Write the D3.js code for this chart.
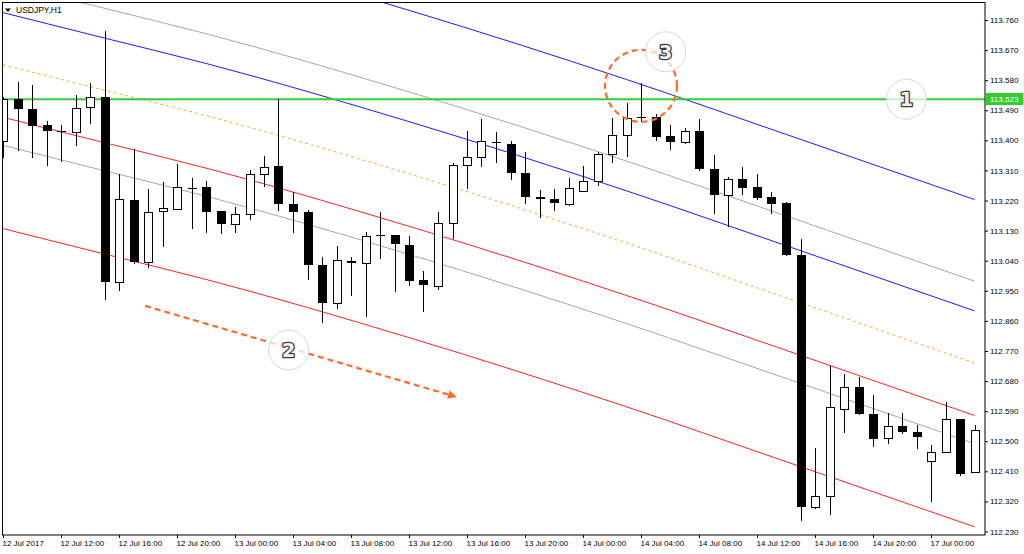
<!DOCTYPE html>
<html>
<head>
<meta charset="utf-8">
<script src="https://cdn.jsdelivr.net/npm/d3@7"></script>
<style>
    body { margin: 0; background: #fff; }
    svg { display: block; font-family: "Liberation Sans", Arial, sans-serif; }
</style>
</head>
<body>
<div id="chart"></div>
<script>
// ---- data (USDJPY H1, 12 Jul 08:00 .. 17 Jul 03:00) ----
const symbolTitle = "USDJPY,H1";

const openPrices = [113.399,113.523,113.493,113.445,113.429,113.426,113.499,113.529,112.976,113.222,
    113.036,113.189,113.195,113.257,113.259,113.188,113.149,113.179,113.299,113.324,
    113.210,113.185,113.028,112.913,113.040,113.034,113.116,113.118,113.086,112.983,
    112.965,113.152,113.326,113.350,113.396,113.388,113.302,113.232,113.225,113.210,
    113.250,113.279,113.358,113.415,113.471,113.471,113.413,113.395,113.429,113.315,
    113.236,113.284,113.260,113.230,113.212,113.056,112.303,112.336,112.597,112.662,
    112.582,112.509,112.547,112.529,112.441,112.468,112.568,112.409];

const highPrices = [113.530,113.576,113.566,113.458,113.445,113.535,113.571,113.727,113.299,113.373,
    113.255,113.275,113.329,113.287,113.279,113.189,113.202,113.312,113.353,113.524,
    113.247,113.192,113.052,113.084,113.050,113.127,113.185,113.118,113.114,113.010,
    113.185,113.332,113.429,113.464,113.426,113.398,113.364,113.252,113.255,113.288,
    113.324,113.364,113.466,113.511,113.571,113.478,113.446,113.436,113.464,113.355,
    113.291,113.321,113.299,113.247,113.217,113.105,112.479,112.725,112.701,112.693,
    112.638,112.584,112.584,112.549,112.489,112.617,112.568,112.549];

const lowPrices = [113.347,113.369,113.346,113.324,113.336,113.384,113.449,112.921,112.948,113.030,
    113.018,113.082,113.192,113.134,113.122,113.119,113.124,113.162,113.260,113.190,
    113.122,112.981,112.853,112.896,112.935,112.873,113.044,112.946,112.963,112.888,
    112.953,113.104,113.254,113.321,113.333,113.282,113.209,113.169,113.190,113.205,
    113.247,113.262,113.332,113.350,113.456,113.398,113.371,113.389,113.309,113.179,
    113.142,113.236,113.222,113.180,113.054,112.262,112.297,112.278,112.525,112.577,
    112.484,112.491,112.521,112.476,112.317,112.468,112.396,112.409];

const closePrices = [113.523,113.493,113.444,113.429,113.428,113.496,113.531,112.976,113.225,113.036,
    113.187,113.197,113.261,113.256,113.186,113.149,113.179,113.299,113.320,113.209,
    113.187,113.027,112.913,113.041,113.032,113.115,113.115,113.091,112.980,112.968,
    113.152,113.326,113.351,113.399,113.391,113.303,113.232,113.226,113.212,113.258,
    113.277,113.358,113.415,113.466,113.470,113.409,113.396,113.429,113.314,113.236,
    113.284,113.258,113.228,113.211,113.056,112.303,112.336,112.602,112.662,112.582,
    112.507,112.547,112.529,112.512,112.469,112.567,112.403,112.534];

const timeTickIndex = [0,4,8,12,16,20,24,28,32,36,40,44,48,52,56,60,64];
const timeTickLabels = ["12 Jul 2017","12 Jul 12:00","12 Jul 16:00","12 Jul 20:00",
    "13 Jul 00:00","13 Jul 04:00","13 Jul 08:00","13 Jul 12:00","13 Jul 16:00","13 Jul 20:00",
    "14 Jul 00:00","14 Jul 04:00","14 Jul 08:00","14 Jul 12:00","14 Jul 16:00","14 Jul 20:00",
    "17 Jul 00:00"];

const priceTicks = [112.230,112.320,112.410,112.500,112.590,112.680,112.770,112.860,112.950,
    113.040,113.130,113.220,113.310,113.400,113.490,113.580,113.670,113.760];

const levelPrice = 113.523;

// channel lines, price read at these bar indices
const channelIndex = [0,7,14,28,43,54,67];
const blueUpper  = [114.115,114.039,113.963,113.789,113.582,113.418,113.223];
const grayUpper  = [113.871,113.795,113.719,113.545,113.338,113.174,112.979];
const blueLower  = [113.782,113.706,113.630,113.456,113.249,113.085,112.890];
const orangeMid  = [113.626,113.550,113.474,113.300,113.093,112.929,112.734];
const redUpper   = [113.469,113.393,113.317,113.143,112.936,112.772,112.577];
const grayLower  = [113.385,113.309,113.233,113.059,112.852,112.688,112.493];
const redLower   = [113.136,113.060,112.984,112.810,112.603,112.439,112.244];

// annotations in bar index / price
const badgeLabels = ["1","2","3"];
const badgeIndex  = [62.3, 19.7, 45.7];
const badgePrice  = [113.523, 112.773, 113.665];
const arrowIndex  = [9.8, 31.0];
const arrowPrice  = [112.905, 112.636];
const ringIndex = 44;
const ringPrice = 113.563;

class CandleChart {
    constructor(_config) {
        this.config = {
            parentElement: _config.parentElement,
            width: 1024,
            height: 554,
            plot: {left: 2.5, top: 2.5, right: 985, bottom: 535},
            bodyWidth: 9
        };
        this.initVis();
    }

    initVis() {
        let vis = this;
        const p = vis.config.plot;

        vis.svg = d3.select(vis.config.parentElement).append('svg')
            .attr('width', vis.config.width)
            .attr('height', vis.config.height);

        vis.svg.append('rect')
            .attr('width', vis.config.width)
            .attr('height', vis.config.height)
            .attr('fill', '#fff');

        vis.x = d3.scaleLinear().domain([0, 67]).range([3, 974.5]);
        vis.y = d3.scaleLinear().domain([112.230, 113.760]).range([531.5, 20]);

        let defs = vis.svg.append('defs');
        defs.append('clipPath').attr('id', 'plot-clip')
            .append('rect')
            .attr('x', p.left).attr('y', p.top)
            .attr('width', p.right - p.left).attr('height', p.bottom - p.top);

        defs.append('marker')
            .attr('id', 'arrow-head')
            .attr('viewBox', '0 0 10 10')
            .attr('refX', 5).attr('refY', 5)
            .attr('markerWidth', 4).attr('markerHeight', 4)
            .attr('markerUnits', 'strokeWidth')
            .attr('orient', 'auto')
            .append('path')
            .attr('d', 'M0,0 L10,5 L0,10 Z')
            .attr('fill', '#ff6a2c');

        vis.chart = vis.svg.append('g').attr('clip-path', 'url(#plot-clip)');

        vis.drawLines();
        vis.drawCandles();
        vis.drawAxes();
        vis.drawAnnotations();
    }

    drawLines() {
        let vis = this;
        const line = d3.line()
            .x(d => vis.x(d[0]))
            .y(d => vis.y(d[1]))
            .curve(d3.curveMonotoneX);

        const channels = [
            {values: blueUpper, color: '#1a1aff', dash: null},
            {values: grayUpper, color: '#a6a6a6', dash: null},
            {values: blueLower, color: '#1a1aff', dash: null},
            {values: orangeMid, color: '#ffa726', dash: '3,3'},
            {values: redUpper, color: '#ff2020', dash: null},
            {values: grayLower, color: '#a6a6a6', dash: null},
            {values: redLower, color: '#ff2020', dash: null}
        ];

        vis.chart.selectAll('.channel')
            .data(channels)
            .join('path')
            .attr('class', 'channel')
            .attr('d', d => line(channelIndex.map((idx, k) => [idx, d.values[k]])))
            .attr('fill', 'none')
            .attr('stroke', d => d.color)
            .attr('stroke-width', 1)
            .attr('stroke-dasharray', d => d.dash);

        vis.chart.append('line')
            .attr('x1', vis.config.plot.left).attr('x2', vis.config.plot.right)
            .attr('y1', vis.y(levelPrice)).attr('y2', vis.y(levelPrice))
            .attr('stroke', '#33cc33')
            .attr('stroke-width', 2);
    }

    drawCandles() {
        let vis = this;
        const bars = openPrices.map((o, i) => ({
            i: i, o: o, h: highPrices[i], l: lowPrices[i], c: closePrices[i]
        }));
        const half = Math.floor(vis.config.bodyWidth / 2);

        let g = vis.chart.selectAll('.candle')
            .data(bars)
            .join('g')
            .attr('class', 'candle');

        g.append('line')
            .attr('x1', d => Math.round(vis.x(d.i)) + 0.5)
            .attr('x2', d => Math.round(vis.x(d.i)) + 0.5)
            .attr('y1', d => Math.round(vis.y(d.h)))
            .attr('y2', d => Math.round(vis.y(d.l)))
            .attr('stroke', '#000')
            .attr('stroke-width', 1);

        g.filter(d => d.c < d.o).append('rect')
            .attr('x', d => Math.round(vis.x(d.i)) - half)
            .attr('width', vis.config.bodyWidth)
            .attr('y', d => Math.round(vis.y(d.o)))
            .attr('height', d => Math.max(1, Math.round(vis.y(d.c)) - Math.round(vis.y(d.o))))
            .attr('fill', '#000');

        g.filter(d => d.c >= d.o).append('rect')
            .attr('x', d => Math.round(vis.x(d.i)) - half + 0.5)
            .attr('width', vis.config.bodyWidth - 1)
            .attr('y', d => Math.round(vis.y(d.c)) + 0.5)
            .attr('height', d => Math.max(0, Math.round(vis.y(d.o)) - Math.round(vis.y(d.c))))
            .attr('fill', '#fff')
            .attr('stroke', '#000')
            .attr('stroke-width', 1);
    }

    drawAxes() {
        let vis = this;
        const p = vis.config.plot;

        vis.svg.append('rect')
            .attr('x', p.left).attr('y', p.top)
            .attr('width', p.right - p.left).attr('height', p.bottom - p.top)
            .attr('fill', 'none')
            .attr('stroke', '#000');

        let yAxis = vis.svg.append('g')
            .attr('transform', `translate(${p.right},0)`)
            .call(d3.axisRight(vis.y).tickValues(priceTicks).tickSize(3).tickSizeOuter(0)
                .tickFormat(d3.format('.3f')));
        yAxis.select('.domain').remove();
        yAxis.selectAll('text')
            .attr('x', 5)
            .style('font-family', '"Liberation Sans", Arial, sans-serif')
            .style('font-size', '8px')
            .attr('fill', '#000');

        let xAxis = vis.svg.append('g')
            .attr('transform', `translate(0,${p.bottom})`)
            .call(d3.axisBottom(vis.x).tickValues(timeTickIndex).tickSize(3).tickSizeOuter(0)
                .tickFormat((d, i) => timeTickLabels[i]));
        xAxis.select('.domain').remove();
        xAxis.selectAll('text')
            .attr('text-anchor', 'start')
            .attr('x', -1)
            .attr('y', 5)
            .style('font-family', '"Liberation Sans", Arial, sans-serif')
            .style('font-size', '8px')
            .attr('fill', '#000');

        // current level tag on the price scale
        let tag = vis.svg.append('g')
            .attr('transform', `translate(${p.right + 1},${Math.round(vis.y(levelPrice)) - 6})`);
        tag.append('rect').attr('width', 37).attr('height', 12).attr('fill', '#33cc33');
        tag.append('text')
            .attr('x', 4).attr('y', 9)
            .attr('fill', '#fff')
            .style('font-size', '8px')
            .text(d3.format('.3f')(levelPrice));

        // symbol caption
        vis.svg.append('path')
            .attr('d', 'M5,8.5 L11,8.5 L8,12 Z')
            .attr('fill', '#000');
        vis.svg.append('text')
            .attr('x', 16).attr('y', 13)
            .style('font-size', '8.5px')
            .attr('fill', '#000')
            .text(symbolTitle);
    }

    drawAnnotations() {
        let vis = this;
        const orange = '#ff6a2c';

        vis.svg.append('line')
            .attr('x1', vis.x(arrowIndex[0])).attr('y1', vis.y(arrowPrice[0]))
            .attr('x2', vis.x(arrowIndex[1])).attr('y2', vis.y(arrowPrice[1]))
            .attr('stroke', orange)
            .attr('stroke-width', 2.2)
            .attr('stroke-dasharray', '6,4')
            .attr('marker-end', 'url(#arrow-head)');

        vis.svg.append('circle')
            .attr('cx', vis.x(ringIndex)).attr('cy', vis.y(ringPrice))
            .attr('r', 36)
            .attr('fill', 'none')
            .attr('stroke', orange)
            .attr('stroke-width', 2.2)
            .attr('stroke-dasharray', '6,4');

        let badges = vis.svg.selectAll('.badge')
            .data(badgeLabels)
            .join('g')
            .attr('class', 'badge')
            .attr('transform', (d, k) => `translate(${vis.x(badgeIndex[k])},${vis.y(badgePrice[k])})`);

        badges.append('circle')
            .attr('r', 20)
            .attr('fill', '#fff')
            .attr('fill-opacity', 0.72)
            .attr('stroke', '#d6d6d6')
            .attr('stroke-width', 1);

        badges.append('text')
            .attr('text-anchor', 'middle')
            .attr('y', 7)
            .style('font-family', '"DejaVu Sans", sans-serif')
            .style('font-weight', 'bold')
            .style('font-size', '19px')
            .attr('fill', '#f2f2f2')
            .attr('stroke', '#3a3a3a')
            .attr('stroke-width', 2.6)
            .attr('paint-order', 'stroke')
            .attr('stroke-linejoin', 'round')
            .text(d => d);
    }
}

new CandleChart({parentElement: '#chart'});
</script>
</body>
</html>
